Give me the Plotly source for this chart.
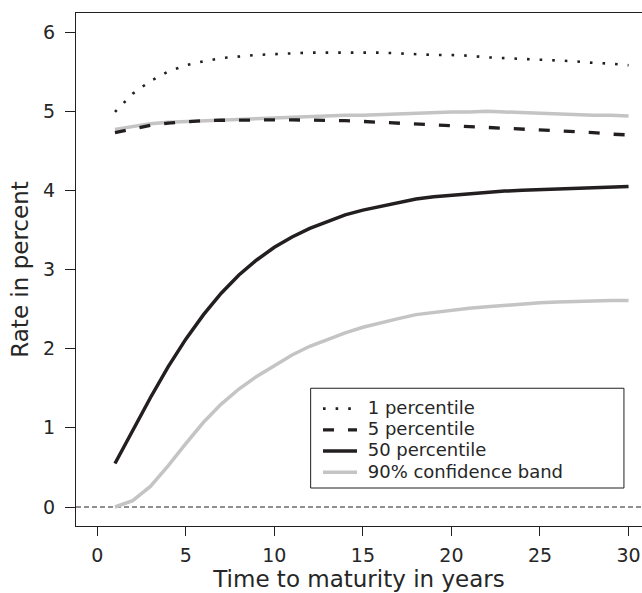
import plotly.graph_objects as go

# Time to maturity (years)
years = list(range(1, 31))

# Rates in percent
pct1 = [4.99, 5.22, 5.38, 5.50, 5.58, 5.63, 5.67, 5.69, 5.71, 5.72,
        5.73, 5.74, 5.74, 5.74, 5.74, 5.74, 5.73, 5.72, 5.71, 5.71,
        5.70, 5.68, 5.67, 5.66, 5.65, 5.64, 5.63, 5.61, 5.60, 5.58]
pct5 = [4.73, 4.78, 4.82, 4.85, 4.87, 4.88, 4.885, 4.89, 4.89, 4.89,
        4.89, 4.89, 4.88, 4.88, 4.87, 4.86, 4.85, 4.84, 4.83, 4.82,
        4.81, 4.80, 4.79, 4.78, 4.77, 4.76, 4.74, 4.73, 4.71, 4.70]
pct50 = [0.55, 0.97, 1.38, 1.77, 2.12, 2.43, 2.70, 2.93, 3.12, 3.28,
         3.41, 3.52, 3.61, 3.69, 3.75, 3.80, 3.85, 3.89, 3.92, 3.94,
         3.96, 3.98, 3.99, 4.00, 4.01, 4.02, 4.03, 4.04, 4.045, 4.05]
band_upper = [4.77, 4.81, 4.84, 4.86, 4.87, 4.88, 4.89, 4.90, 4.90, 4.91,
              4.92, 4.93, 4.94, 4.95, 4.95, 4.96, 4.97, 4.98, 4.98, 4.99,
              4.99, 5.00, 4.99, 4.98, 4.97, 4.97, 4.96, 4.95, 4.95, 4.94]
band_lower = [0.00, 0.08, 0.26, 0.52, 0.80, 1.07, 1.30, 1.49, 1.65, 1.78,
              1.92, 2.03, 2.12, 2.20, 2.27, 2.33, 2.38, 2.43, 2.46, 2.49,
              2.51, 2.53, 2.55, 2.565, 2.58, 2.59, 2.60, 2.605, 2.61, 2.61]

x_ticks = [0, 5, 10, 15, 20, 25, 30]
y_ticks = [0, 1, 2, 3, 4, 5, 6]

INK = "#231f20"
GRAY = "#c4c4c4"
FONT = "DejaVu Sans, Liberation Sans, sans-serif"
FS = 19
LEG_FS = 18


def lbl(t):
    return '<span style="font-size:%dpx">&nbsp;%s</span>' % (LEG_FS, t)


fig = go.Figure()
fig.add_trace(go.Scatter(x=years, y=band_upper, mode="lines", name=lbl("90% confidence band"),
                         line=dict(color=GRAY, width=3.5), legendrank=4))
fig.add_trace(go.Scatter(x=years, y=band_lower, mode="lines", showlegend=False,
                         line=dict(color=GRAY, width=3.5)))
fig.add_trace(go.Scatter(x=years, y=pct1, mode="lines", name=lbl("1 percentile"),
                         line=dict(color=INK, width=2.6, dash="2.6px,10px"), legendrank=1))
fig.add_trace(go.Scatter(x=years, y=pct5, mode="lines", name=lbl("5 percentile"),
                         line=dict(color=INK, width=3.3, dash="11px,14px"), legendrank=2))
fig.add_trace(go.Scatter(x=years, y=pct50, mode="lines", name=lbl("50 percentile"),
                         line=dict(color=INK, width=3.5), legendrank=3))

# zero reference line
fig.add_shape(type="line", xref="paper", x0=0, x1=1, yref="y", y0=0, y1=0,
              line=dict(color=INK, width=1, dash="5px,3px"), layer="below")
# legend box
fig.add_shape(type="rect", xref="x", yref="y", x0=12.05, x1=29.74, y0=0.24, y1=1.50,
              line=dict(color=INK, width=1), fillcolor="rgba(0,0,0,0)")

fig.update_layout(
    width=642, height=593,
    margin=dict(l=76, r=0, t=13, b=67),
    paper_bgcolor="white", plot_bgcolor="white",
    font=dict(family=FONT, size=FS, color="#262626"),
    showlegend=True,
    legend=dict(x=(318 - 76) / 566, y=1 - (393 - 13) / 513, xanchor="left", yanchor="top",
                bgcolor="rgba(0,0,0,0)", borderwidth=0, font=dict(size=14, family=FONT),
                itemwidth=34, tracegroupgap=0, itemclick=False),
    xaxis=dict(range=[-1.2, 30.76], tickvals=x_ticks, ticks="outside", ticklen=9,
               tickwidth=1, tickcolor=INK, showline=True, linecolor=INK, linewidth=1,
               mirror=True, showgrid=False, zeroline=False, ticklabelstandoff=3,
               title=dict(text="Time to maturity in years", standoff=6)),
    yaxis=dict(range=[-0.24, 6.24], tickvals=y_ticks, ticks="outside", ticklen=10,
               tickwidth=1, tickcolor=INK, showline=True, linecolor=INK, linewidth=1,
               showgrid=False, zeroline=False, ticklabelstandoff=6,
               title=dict(text="Rate in percent", standoff=8)),
)

fig.write_html("out.html")
